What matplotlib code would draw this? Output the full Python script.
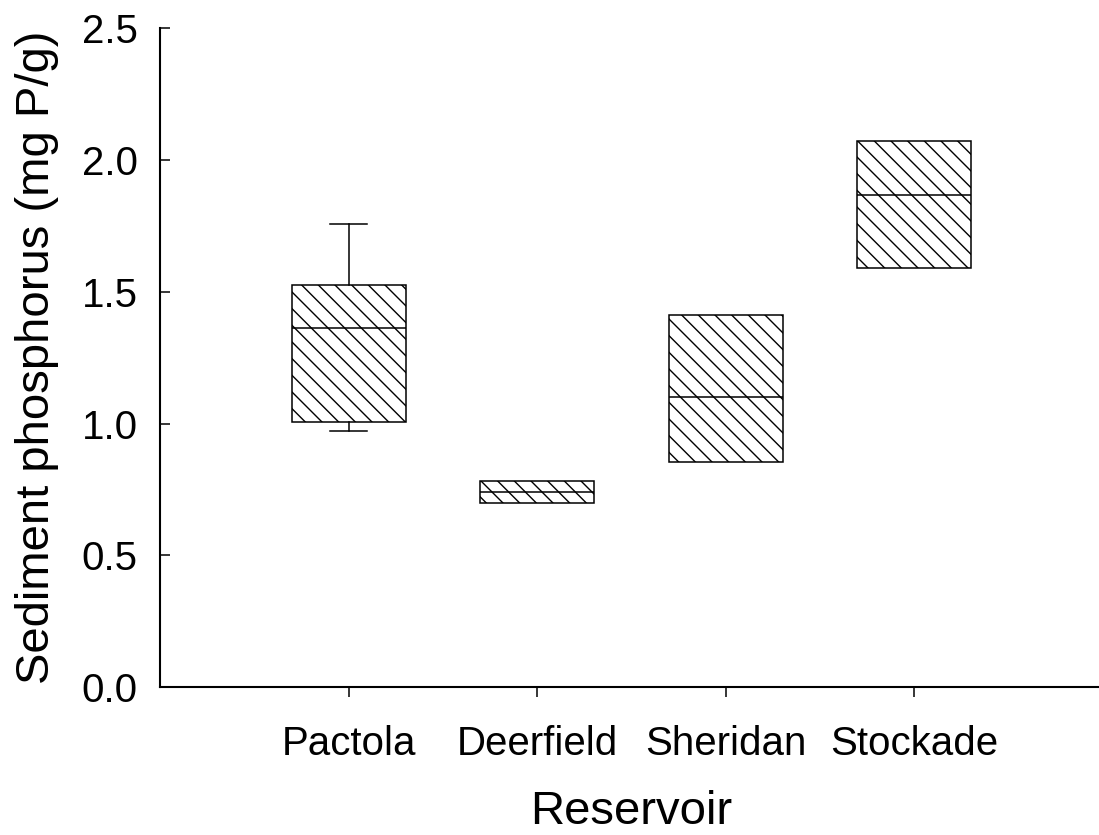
import matplotlib
matplotlib.use("Agg")
import matplotlib.pyplot as plt

plt.rcParams['font.family'] = ['Liberation Sans', 'DejaVu Sans']
plt.rcParams['hatch.linewidth'] = 1.0

reservoirs = ["Pactola", "Deerfield", "Sheridan", "Stockade"]
whisker_low = [0.971, 0.698, 0.854, 1.589]
q1 = [1.005, 0.698, 0.854, 1.589]
medians = [1.362, 0.740, 1.100, 1.866]
q3 = [1.525, 0.781, 1.411, 2.071]
whisker_high = [1.756, 0.781, 1.411, 2.071]

stats = []
for name, lo, a, m, b, hi in zip(reservoirs, whisker_low, q1, medians, q3, whisker_high):
    stats.append({"label": name, "whislo": lo, "q1": a, "med": m,
                  "q3": b, "whishi": hi, "fliers": []})

fig = plt.figure(figsize=(10.99, 8.35), dpi=100)
ax = fig.add_axes([0.1456, 0.1772, 0.858, 0.789])

lw = 1.1
bp = ax.bxp(stats, positions=[1, 2, 3, 4], widths=0.604, capwidths=0.2,
            patch_artist=True, showfliers=False,
            boxprops=dict(facecolor="white", edgecolor="black", linewidth=lw, hatch="\\\\"),
            medianprops=dict(color="black", linewidth=lw),
            whiskerprops=dict(color="black", linewidth=lw),
            capprops=dict(color="black", linewidth=lw))

# caps only where the whisker sticks out of the box
for i in range(len(reservoirs)):
    if whisker_low[i] >= q1[i]:
        bp["caps"][2 * i].set_visible(False)
    if whisker_high[i] <= q3[i]:
        bp["caps"][2 * i + 1].set_visible(False)

ax.set_xlim(0, 5)
ax.set_ylim(0, 2.5)
ax.set_yticks([0.0, 0.5, 1.0, 1.5, 2.0, 2.5])
ax.set_yticklabels(["0.0", "0.5", "1.0", "1.5", "2.0", "2.5"])
ax.set_xticks([1, 2, 3, 4])
ax.set_xticklabels(reservoirs)

for s in ["top", "right"]:
    ax.spines[s].set_visible(False)
for s in ["left", "bottom"]:
    ax.spines[s].set_linewidth(1.5)

ax.tick_params(axis="y", direction="in", length=7, width=1.1, pad=16, labelsize=29)
ax.tick_params(axis="x", direction="out", length=7, width=1.1, pad=20, labelsize=29)

ax.set_xlabel("Reservoir", fontsize=34, labelpad=20)
ax.set_ylabel("Sediment phosphorus (mg P/g)", fontsize=34, labelpad=16)

fig.savefig("out.png", dpi=100)
